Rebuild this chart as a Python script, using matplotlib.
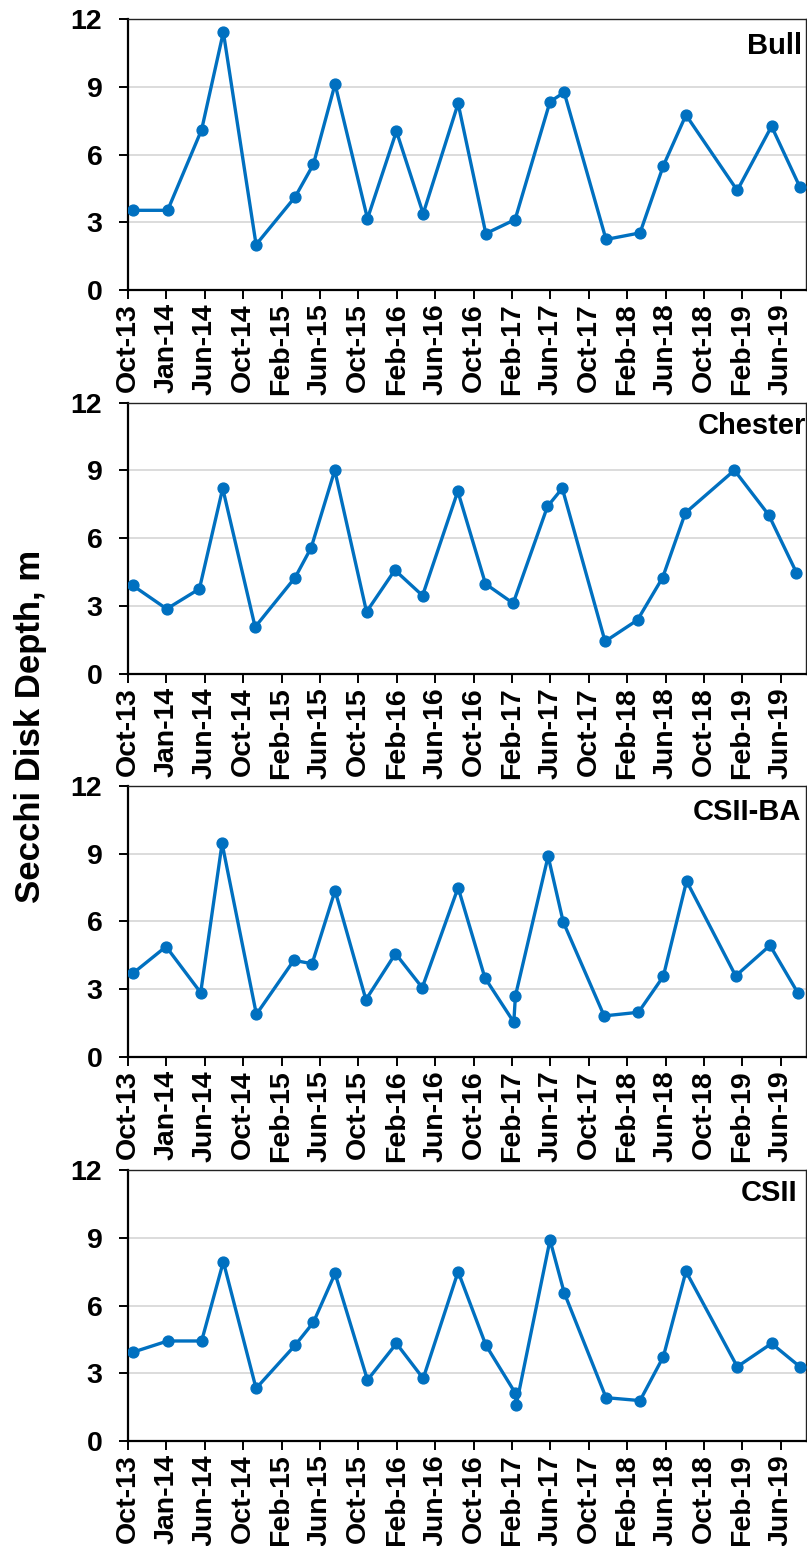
import pandas as pd
import matplotlib.pyplot as plt
import matplotlib.dates as mdates

plt.rcParams['font.family'] = ['Liberation Sans', 'DejaVu Sans']
plt.rcParams['font.weight'] = 'bold'

# Datas de amostragem e profundidade do disco de Secchi (m) por estação
bull_dates = ['2013-10-18', '2014-02-04', '2014-05-23', '2014-07-31', '2014-11-12',
              '2015-03-16', '2015-05-13', '2015-07-21', '2015-11-01', '2016-02-01',
              '2016-04-26', '2016-08-15', '2016-11-11', '2017-02-12', '2017-06-03',
              '2017-07-18', '2017-11-28', '2018-03-16', '2018-05-29', '2018-08-09',
              '2019-01-19', '2019-05-08', '2019-08-06']
bull_depth = [3.53, 3.53, 7.1, 11.42, 2.01, 4.12, 5.56, 9.12, 3.16, 7.03,
              3.38, 8.26, 2.5, 3.12, 8.34, 8.75, 2.24, 2.53, 5.5, 7.75,
              4.41, 7.25, 4.56]

chester_dates = ['2013-10-16', '2014-02-01', '2014-05-16', '2014-07-29', '2014-11-09',
                 '2015-03-16', '2015-05-06', '2015-07-20', '2015-10-29', '2016-01-27',
                 '2016-04-24', '2016-08-14', '2016-11-10', '2017-02-06', '2017-05-26',
                 '2017-07-12', '2017-11-25', '2018-03-08', '2018-05-27', '2018-08-07',
                 '2019-01-10', '2019-04-29', '2019-07-26']
chester_depth = [3.91, 2.87, 3.76, 8.21, 2.07, 4.26, 5.58, 9.01, 2.74, 4.59,
                 3.46, 8.08, 3.98, 3.12, 7.41, 8.21, 1.43, 2.38, 4.26, 7.12,
                 9.01, 7.03, 4.48]

csiiba_dates = ['2013-10-18', '2014-01-30', '2014-05-20', '2014-07-27', '2014-11-13',
                '2015-03-12', '2015-05-09', '2015-07-21', '2015-10-27', '2016-01-29',
                '2016-04-23', '2016-08-15', '2016-11-08', '2017-02-08', '2017-02-13',
                '2017-05-28', '2017-07-15', '2017-11-22', '2018-03-11', '2018-05-29',
                '2018-08-11', '2019-01-14', '2019-05-03', '2019-07-30']
csiiba_depth = [3.72, 4.89, 2.85, 9.46, 1.89, 4.28, 4.13, 7.37, 2.54, 4.58,
                3.07, 7.5, 3.51, 1.54, 2.7, 8.89, 5.98, 1.82, 1.98, 3.57,
                7.79, 3.59, 4.94, 2.85]

csii_dates = ['2013-10-18', '2014-02-04', '2014-05-23', '2014-07-31', '2014-11-12',
              '2015-03-16', '2015-05-13', '2015-07-21', '2015-11-01', '2016-02-01',
              '2016-04-26', '2016-08-15', '2016-11-11', '2017-02-12', '2017-02-16',
              '2017-06-03', '2017-07-18', '2017-11-28', '2018-03-16', '2018-05-29',
              '2018-08-09', '2019-01-19', '2019-05-08', '2019-08-06']
csii_depth = [3.94, 4.43, 4.43, 7.94, 2.33, 4.24, 5.25, 7.42, 2.7, 4.32,
              2.77, 7.5, 4.25, 2.14, 1.61, 8.9, 6.57, 1.92, 1.79, 3.73,
              7.51, 3.29, 4.32, 3.29]

estacoes = ['Bull', 'Chester', 'CSII-BA', 'CSII']
series = [(bull_dates, bull_depth), (chester_dates, chester_depth),
          (csiiba_dates, csiiba_depth), (csii_dates, csii_depth)]

# Eixo de datas do Excel: marcas a cada 122 dias
ticks = pd.date_range('2013-10-01', periods=18, freq='122D')

fig = plt.figure(figsize=(8.07, 15.46), dpi=100)
bottoms = [0.8124, 0.5642, 0.3163, 0.0679]
label_pos = [(0.994, 0.871), (1.0, 0.883), (0.993, 0.875), (0.988, 0.887)]

for i, (nome, (datas, prof)) in enumerate(zip(estacoes, series)):
    ax = fig.add_axes([0.1586, bottoms[i], 0.840, 0.1753])
    ax.plot(pd.to_datetime(datas), prof, color='#0070C0', lw=2.4,
            marker='o', markersize=7.8, zorder=3)
    ax.set_ylim(0, 12)
    ax.set_yticks([0, 3, 6, 9, 12])
    ax.set_xlim(pd.Timestamp('2013-10-01'), pd.Timestamp('2019-08-25'))
    ax.set_xticks(ticks)
    ax.xaxis.set_major_formatter(mdates.DateFormatter('%b-%y'))
    ax.grid(axis='y', color='#D9D9D9', lw=1.3)
    ax.set_axisbelow(True)
    for s in ['left', 'bottom']:
        ax.spines[s].set_linewidth(1.6)
    for s in ['top', 'right']:
        ax.spines[s].set_linewidth(1.0)
        ax.spines[s].set_color('#222222')
    ax.tick_params(axis='both', direction='out', length=6.5, width=1.4,
                   labelsize=20.5)
    ax.tick_params(axis='y', pad=12)
    ax.tick_params(axis='x', rotation=90, pad=3)
    for lbl in ax.get_xticklabels() + ax.get_yticklabels():
        lbl.set_fontweight('bold')
    ax.text(label_pos[i][0], label_pos[i][1], nome, transform=ax.transAxes,
            ha='right', va='baseline', fontsize=21, fontweight='bold')

fig.text(0.038, 0.53, 'Secchi Disk Depth, m', rotation=90, ha='center',
         va='center', fontsize=25, fontweight='bold')

plt.savefig('out.png', dpi=100)
